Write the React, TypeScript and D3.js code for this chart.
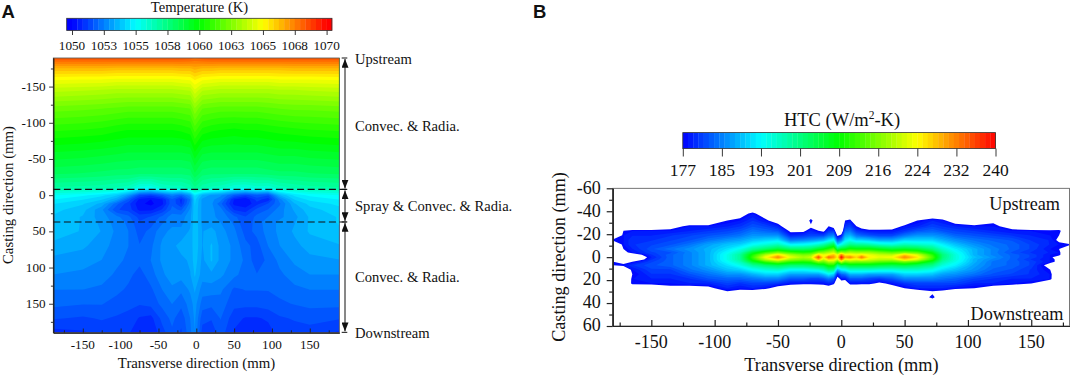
import React, { useEffect, useRef } from "react";
import * as d3 from "d3";

const tempBarTicks = [1050, 1052.5, 1055, 1057.5, 1060, 1062.5, 1065, 1067.5, 1070];
const tempBarLabels = ["1050", "1053", "1055", "1058", "1060", "1063", "1065", "1068", "1070"];
const htcBarTicks = [177, 184.875, 192.75, 200.625, 208.5, 216.375, 224.25, 232.125, 240];
const htcBarLabels = ["177", "185", "193", "201", "209", "216", "224", "232", "240"];

// panel A, grid (K)
const tempX = [-189, -150, -125, -105, -90, -75, -60, -45, -32, -20, -8, -2, 8, 20, 32, 50, 65, 80, 95, 110, 130, 150, 189];
const tempY = [-189, -175, -160, -145, -120, -90, -60, -30, -10, 0, 6, 12, 20, 30, 37, 50, 70, 90, 110, 130, 150, 170, 189];
const tempRows = [
  [1068.4, 1068.4, 1068.4, 1068.4, 1068.4, 1068.4, 1068.4, 1068.4, 1068.4, 1068.4, 1068.3, 1068.1, 1068.3, 1068.4, 1068.4, 1068.4, 1068.4, 1068.4, 1068.4, 1068.4, 1068.4, 1068.4, 1068.4],
  [1066.4, 1066.4, 1066.4, 1066.3, 1066.3, 1066.3, 1066.3, 1066.3, 1066.3, 1066.4, 1066.4, 1066.6, 1066.4, 1066.4, 1066.3, 1066.3, 1066.3, 1066.3, 1066.3, 1066.3, 1066.4, 1066.4, 1066.4],
  [1064.9, 1064.8, 1064.8, 1064.7, 1064.7, 1064.7, 1064.7, 1064.7, 1064.7, 1064.8, 1064.9, 1065.3, 1064.9, 1064.8, 1064.7, 1064.7, 1064.7, 1064.7, 1064.7, 1064.8, 1064.8, 1064.8, 1064.9],
  [1063.7, 1063.6, 1063.5, 1063.4, 1063.4, 1063.4, 1063.4, 1063.4, 1063.4, 1063.5, 1063.6, 1064.3, 1063.6, 1063.5, 1063.4, 1063.4, 1063.4, 1063.4, 1063.4, 1063.5, 1063.5, 1063.6, 1063.7],
  [1062.1, 1062, 1061.9, 1061.8, 1061.7, 1061.7, 1061.7, 1061.7, 1061.7, 1061.8, 1061.9, 1062.7, 1061.9, 1061.8, 1061.7, 1061.7, 1061.7, 1061.7, 1061.8, 1061.9, 1062, 1062, 1062.1],
  [1060.7, 1060.6, 1060.5, 1060.3, 1060.2, 1060.2, 1060.2, 1060.2, 1060.2, 1060.3, 1060.5, 1061.2, 1060.5, 1060.3, 1060.2, 1060.1, 1060.2, 1060.2, 1060.3, 1060.4, 1060.5, 1060.6, 1060.7],
  [1059.4, 1059.3, 1059.2, 1059.1, 1059, 1059, 1059, 1059, 1059, 1059, 1059.1, 1059.8, 1059.1, 1059, 1059, 1059, 1059, 1059, 1059.1, 1059.2, 1059.2, 1059.3, 1059.4],
  [1058.2, 1058.1, 1058, 1057.9, 1057.9, 1057.8, 1057.8, 1057.8, 1057.8, 1057.8, 1057.9, 1058.5, 1057.9, 1057.8, 1057.8, 1057.8, 1057.8, 1057.8, 1057.9, 1058, 1058, 1058.1, 1058.2],
  [1056.8, 1056.7, 1056.6, 1056.4, 1056.2, 1055.4, 1055.3, 1056, 1056.2, 1056.2, 1056.6, 1057.2, 1056.6, 1056.3, 1056.2, 1055.6, 1055.5, 1055.8, 1055.7, 1056.2, 1056.5, 1056.7, 1056.8],
  [1055.2, 1054.9, 1054.5, 1054, 1053, 1051.5, 1051.2, 1051.8, 1052.5, 1052, 1053, 1054.5, 1053.5, 1053, 1052.8, 1051.8, 1051.3, 1051.8, 1051.5, 1053.5, 1054.5, 1054.9, 1055.2],
  [1054.8, 1054.4, 1054, 1053.2, 1051.8, 1050.5, 1050.2, 1050.6, 1051.8, 1050.9, 1052.3, 1054.1, 1053, 1052.8, 1052.5, 1050.6, 1050.3, 1051.2, 1050.8, 1052.5, 1054, 1054.5, 1054.8],
  [1054.4, 1054, 1053.4, 1052, 1051.2, 1050.3, 1050.1, 1050.5, 1051.8, 1051, 1052.5, 1054, 1053, 1052.8, 1052, 1050.5, 1050.3, 1050.9, 1051.5, 1052.2, 1053.5, 1054.1, 1054.5],
  [1054.1, 1053.7, 1052.8, 1051.5, 1051.3, 1050.5, 1050.5, 1051.1, 1052, 1051.8, 1052.8, 1053.9, 1053, 1052.8, 1052.5, 1051, 1050.8, 1051.6, 1051.9, 1052.5, 1053.2, 1053.8, 1054.2],
  [1053.9, 1053.5, 1052.9, 1052.4, 1052, 1051.3, 1051.5, 1052, 1052.5, 1052.5, 1053, 1053.9, 1053, 1052.8, 1052.6, 1052, 1051.5, 1052, 1052.3, 1052.6, 1053, 1053.6, 1054],
  [1053.9, 1053.5, 1053, 1052.5, 1052.2, 1051.5, 1051.7, 1052.2, 1052.6, 1052.6, 1053, 1053.9, 1053, 1052.9, 1052.7, 1052.2, 1051.5, 1052.1, 1052.5, 1052.8, 1053.1, 1053.6, 1054],
  [1053.8, 1053.5, 1053.1, 1052.6, 1052.3, 1051.7, 1052, 1052.6, 1052.8, 1052.8, 1053.2, 1053.9, 1053.1, 1053.3, 1052.9, 1052.4, 1051.7, 1052, 1052.5, 1052.8, 1053.2, 1053.6, 1053.9],
  [1053.4, 1053.2, 1052.9, 1052.5, 1052.3, 1051.9, 1052.2, 1052.8, 1053, 1053.3, 1053.2, 1053.9, 1053.1, 1053.6, 1053, 1052.6, 1052, 1051.7, 1052.3, 1052.7, 1053, 1053.3, 1053.5],
  [1053, 1052.9, 1052.7, 1052.4, 1052.2, 1052, 1052.3, 1052.8, 1053, 1053, 1053.2, 1053.8, 1053, 1053.6, 1053, 1052.6, 1052.2, 1051.6, 1052, 1052.4, 1052.8, 1053, 1053.1],
  [1052.7, 1052.6, 1052.5, 1052.2, 1052, 1051.7, 1052.1, 1052.6, 1053, 1052.9, 1053.1, 1053.6, 1052.9, 1053, 1052.8, 1052.4, 1052.1, 1051.9, 1052, 1052.2, 1052.5, 1052.7, 1052.7],
  [1052.3, 1052.3, 1052.2, 1052, 1051.8, 1051.6, 1051.8, 1052.3, 1052.6, 1052.4, 1052.8, 1053.2, 1052.5, 1052.5, 1052.4, 1051.8, 1051.9, 1051.9, 1051.9, 1052, 1052.2, 1052.3, 1052.3],
  [1052, 1051.9, 1051.9, 1051.7, 1051.6, 1051.5, 1051.6, 1052, 1052.3, 1052, 1052.5, 1052.9, 1052.1, 1052, 1052.1, 1051.6, 1051.6, 1051.6, 1051.7, 1051.8, 1051.9, 1052, 1052],
  [1051.5, 1051.4, 1051.5, 1051.4, 1051.3, 1051, 1050.9, 1051.6, 1052, 1051.6, 1052.3, 1052.8, 1051.6, 1051.5, 1051.9, 1051.2, 1051, 1051, 1051.1, 1051.4, 1051.5, 1051.6, 1051.5],
  [1050.9, 1051, 1051.2, 1051.2, 1051.1, 1050.8, 1050.7, 1051.3, 1051.8, 1051.4, 1052.2, 1052.7, 1051.3, 1051.2, 1051.7, 1051, 1050.7, 1050.8, 1050.9, 1051.2, 1051.3, 1051.3, 1051],
];

// panel B, one list per transverse position, running down htcY (W/m2-K, below 177 is blank)
const htcX = [-180, -172, -165, -150, -135, -120, -105, -90, -80, -70, -60, -50, -40, -30, -24, -18, -14, -10, -6, -3, 0, 3, 7, 12, 16, 22, 30, 40, 50, 60, 72, 80, 90, 105, 120, 135, 150, 165, 172, 180];
const htcY = [-45, -38, -32, -27, -23, -19, -15, -11, -7, -4, -2, 0, 2, 4, 7, 11, 15, 19, 23, 27, 31, 35, 40];
const htcColumns = [
  [170, 170, 170, 170, 170, 170, 178, 172, 170, 170, 170, 170, 170, 177, 177, 170, 170, 170, 170, 170, 170, 170, 170],
  [170, 170, 170, 170, 177, 178, 178, 178, 177, 176, 172, 170, 170, 175, 178, 172, 170, 170, 171, 170, 170, 170, 170],
  [170, 170, 170, 171, 178, 179, 180, 180, 179, 178, 174, 170, 172, 177, 180, 178, 177, 178, 178, 172, 170, 170, 170],
  [170, 170, 170, 172, 178, 179, 180, 181, 182, 181, 180, 179, 180, 181, 182, 181, 180, 179, 178, 173, 170, 170, 170],
  [170, 170, 170, 175, 178, 180, 181, 182, 184, 182, 183, 183, 183, 183, 183, 181, 180, 179, 178, 176, 171, 170, 170],
  [170, 170, 171, 178, 179, 181, 182, 184, 186, 185, 185, 185, 185, 185, 185, 184, 182, 180, 179, 175, 170, 170, 170],
  [170, 170, 172, 178, 180, 182, 184, 187, 188, 188, 188, 188, 188, 188, 188, 186, 184, 182, 179, 176, 171, 170, 170],
  [170, 170, 177, 179, 181, 183, 186, 189, 191, 193, 194, 194, 194, 193, 191, 189, 186, 183, 181, 179, 176, 170, 170],
  [170, 175, 178, 180, 182, 184, 187, 190, 194, 197, 199, 199, 199, 197, 194, 190, 186, 183, 180, 178, 175, 170, 170],
  [170, 178, 180, 182, 184, 186, 189, 193, 199, 206, 210, 212, 210, 206, 199, 193, 188, 184, 181, 179, 174, 170, 170],
  [170, 174, 178, 181, 183, 186, 190, 195, 202, 212, 219, 224, 220, 212, 202, 195, 190, 185, 181, 178, 172, 170, 170],
  [170, 170, 174, 179, 182, 186, 191, 197, 205, 216, 226, 232, 226, 216, 204, 196, 190, 185, 180, 175, 170, 170, 170],
  [170, 170, 170, 172, 176, 179, 184, 192, 202, 212, 219, 223, 218, 211, 202, 193, 187, 182, 178, 174, 170, 170, 170],
  [170, 170, 170, 172, 176, 180, 185, 193, 202, 210, 216, 219, 216, 210, 202, 193, 187, 182, 178, 172, 170, 170, 170],
  [170, 170, 179, 176, 179, 181, 186, 194, 203, 211, 217, 221, 217, 211, 203, 194, 187, 181, 178, 172, 170, 170, 170],
  [170, 170, 170, 172, 177, 181, 187, 196, 206, 216, 227, 236, 229, 217, 205, 195, 187, 181, 178, 173, 170, 170, 170],
  [170, 170, 170, 171, 176, 181, 188, 198, 208, 217, 223, 225, 221, 215, 206, 197, 189, 182, 178, 174, 170, 170, 170],
  [170, 170, 170, 177, 180, 184, 191, 201, 211, 219, 225, 234, 227, 219, 210, 201, 192, 184, 179, 175, 170, 170, 170],
  [170, 170, 170, 175, 180, 185, 193, 204, 214, 221, 228, 231, 226, 219, 210, 200, 190, 182, 178, 172, 170, 170, 170],
  [170, 170, 170, 170, 172, 176, 182, 190, 203, 215, 223, 225, 221, 212, 200, 188, 179, 175, 172, 170, 170, 170, 170],
  [170, 170, 170, 170, 172, 178, 184, 194, 206, 219, 232, 240, 233, 221, 204, 192, 183, 178, 175, 171, 170, 170, 170],
  [170, 170, 177, 180, 183, 187, 191, 197, 207, 217, 225, 230, 223, 215, 204, 193, 184, 178, 174, 172, 170, 170, 170],
  [170, 170, 178, 181, 184, 188, 193, 200, 210, 219, 225, 232, 225, 217, 206, 196, 188, 182, 178, 173, 170, 170, 170],
  [170, 170, 171, 177, 180, 184, 190, 199, 209, 218, 224, 227, 223, 216, 206, 196, 188, 182, 178, 173, 170, 170, 170],
  [170, 170, 170, 175, 179, 183, 190, 199, 209, 218, 226, 233, 226, 216, 206, 196, 188, 182, 178, 172, 170, 170, 170],
  [170, 170, 170, 173, 178, 182, 189, 198, 209, 218, 223, 225, 222, 216, 206, 196, 187, 181, 178, 171, 170, 170, 170],
  [170, 170, 170, 173, 178, 181, 187, 196, 207, 216, 221, 223, 220, 214, 205, 195, 187, 180, 176, 171, 170, 170, 170],
  [170, 170, 170, 174, 178, 181, 187, 195, 205, 214, 220, 224, 220, 213, 204, 195, 187, 182, 178, 175, 171, 170, 170],
  [170, 170, 172, 178, 180, 184, 190, 197, 206, 216, 227, 232, 227, 216, 205, 196, 190, 185, 180, 177, 171, 170, 170],
  [170, 170, 177, 179, 182, 186, 190, 196, 205, 214, 222, 226, 222, 213, 203, 196, 190, 185, 181, 179, 173, 170, 170],
  [170, 172, 179, 181, 183, 186, 190, 195, 201, 207, 211, 213, 211, 206, 200, 194, 189, 185, 181, 179, 176, 179, 170],
  [170, 171, 178, 180, 182, 185, 188, 192, 196, 199, 201, 201, 200, 198, 195, 191, 187, 184, 181, 179, 175, 170, 170],
  [170, 170, 174, 179, 181, 183, 186, 189, 192, 194, 195, 195, 195, 194, 192, 189, 186, 183, 181, 178, 173, 170, 170],
  [170, 170, 171, 178, 180, 182, 184, 186, 188, 188, 188, 189, 188, 188, 187, 186, 184, 181, 179, 177, 171, 170, 170],
  [170, 170, 176, 178, 179, 181, 183, 184, 185, 185, 185, 186, 185, 184, 184, 183, 182, 180, 179, 175, 170, 170, 170],
  [170, 170, 170, 175, 178, 180, 182, 183, 183, 182, 183, 183, 183, 183, 183, 182, 181, 179, 178, 174, 170, 170, 170],
  [170, 170, 170, 172, 178, 179, 180, 181, 181, 180, 181, 181, 180, 181, 181, 180, 180, 179, 177, 171, 170, 170, 170],
  [170, 170, 170, 170, 178, 178, 179, 179, 178, 179, 178, 178, 178, 178, 175, 177, 178, 178, 172, 170, 170, 170, 170],
  [170, 170, 170, 171, 178, 177, 176, 178, 177, 178, 178, 174, 176, 176, 171, 170, 172, 171, 170, 170, 170, 170, 170],
  [170, 170, 170, 170, 172, 170, 170, 178, 172, 170, 170, 170, 170, 170, 170, 170, 170, 170, 170, 170, 170, 170, 170],
];

const sideLabels = ["Upstream", "Convec. & Radia.", "Spray & Convec. & Radia.", "Convec. & Radia.", "Downstream"];
const sideBaselines = [64.3, 131, 211, 281.7, 338.3];
const zoneEdges = [-189.5, -8, 37, 189.5];

const rainbow = ["#0000ff", "#00ffff", "#00ff00", "#ffff00", "#ff0000"];
const FONT = "'Liberation Serif', 'Times New Roman', serif";

function colorScale(lo: number, hi: number) {
  const step = (hi - lo) / 4;
  return d3.scaleLinear<string>().domain(d3.range(5).map((i) => lo + i * step)).range(rainbow).clamp(true);
}

// filled contour bands; the grid is not even so positions go through piecewise scales
function drawContours(g: any, values: number[], gridX: number[], gridY: number[], x: any, y: any, levels: number[], color: any) {
  const sx = d3.scaleLinear().domain(gridX.map((_, i) => i + 0.5)).range(gridX.map((d) => x(d))).clamp(true);
  const sy = d3.scaleLinear().domain(gridY.map((_, i) => i + 0.5)).range(gridY.map((d) => y(d))).clamp(true);
  const path = d3.geoPath(
    d3.geoTransform({
      point(px: number, py: number) {
        this.stream.point(sx(px), sy(py));
      },
    })
  );
  const contours = d3.contours().size([gridX.length, gridY.length]).thresholds(levels).smooth(true);
  g.selectAll("path.band")
    .data(contours(values))
    .enter()
    .append("path")
    .attr("class", "band")
    .attr("d", (d: any) => path(d))
    .attr("fill", (d: any) => color(d.value));
}

function drawColorBar(svg: any, opts: any) {
  const { tickVals, labels, lo, hi, pad, y0, y1, tickEnd, labelY, fontSize, count, color } = opts;
  const bar = d3.scaleLinear().domain([lo, hi]).range(opts.range);
  const ext = (hi - lo + 2 * pad) / count;
  const edges = d3.range(count).map((i) => lo - pad + i * ext);
  svg.append("g")
    .selectAll("rect")
    .data(edges)
    .enter()
    .append("rect")
    .attr("x", (d: number) => bar(d))
    .attr("y", y0)
    .attr("width", bar(lo + ext) - bar(lo) + 0.3)
    .attr("height", y1 - y0)
    .attr("fill", (d: number) => color(d + ext / 2));
  svg.append("rect")
    .attr("x", bar(lo - pad))
    .attr("y", y0)
    .attr("width", bar(hi + pad) - bar(lo - pad))
    .attr("height", y1 - y0)
    .attr("fill", "none")
    .attr("stroke", "#333")
    .attr("stroke-width", 0.8);
  const ax = svg.append("g").attr("transform", `translate(0,${y1})`);
  ax.call(d3.axisBottom(bar).tickValues(tickVals).tickSize(tickEnd - y1).tickPadding(0).tickFormat(() => ""));
  ax.select(".domain").remove();
  ax.selectAll("line").attr("stroke", "#222").attr("stroke-width", 0.9);
  svg.append("g")
    .selectAll("text")
    .data(tickVals)
    .enter()
    .append("text")
    .attr("x", (d: number) => bar(d))
    .attr("y", labelY)
    .attr("text-anchor", "middle")
    .attr("font-size", fontSize)
    .text((_: number, i: number) => labels[i]);
}

function drawAxes(svg: any, opts: any) {
  const { x, y, xMajor, xMinor, yMajor, yMinor, major, minor, labelGap, fontSize, strokeW, xLabelY } = opts;
  const [x0, x1] = x.range();
  const [y0, y1] = y.range();

  svg.append("rect")
    .attr("x", x0)
    .attr("y", y0)
    .attr("width", x1 - x0)
    .attr("height", y1 - y0)
    .attr("fill", "none")
    .attr("stroke", "#555")
    .attr("stroke-width", 0.8);

  const fmt = (d: any) => String(d);
  // bottom ticks point into the plot
  const bottomMinor = svg.append("g").attr("transform", `translate(0,${y1})`);
  bottomMinor.call(d3.axisBottom(x).tickValues(xMinor).tickSizeInner(-minor).tickSizeOuter(0).tickFormat(() => ""));
  const bottom = svg.append("g").attr("transform", `translate(0,${y1})`);
  bottom.call(d3.axisBottom(x).tickValues(xMajor).tickSizeInner(-major).tickSizeOuter(0).tickFormat(() => ""));
  const leftMinor = svg.append("g").attr("transform", `translate(${x0},0)`);
  leftMinor.call(d3.axisLeft(y).tickValues(yMinor).tickSizeInner(minor).tickSizeOuter(0).tickFormat(() => ""));
  const left = svg.append("g").attr("transform", `translate(${x0},0)`);
  left.call(d3.axisLeft(y).tickValues(yMajor).tickSizeInner(major).tickSizeOuter(0).tickPadding(labelGap).tickFormat(fmt));

  [bottomMinor, bottom, leftMinor, left].forEach((g: any) => {
    g.selectAll("line,path").attr("stroke", "#222").attr("stroke-width", strokeW);
    g.selectAll("text").attr("font-family", FONT).attr("font-size", fontSize).attr("fill", "#111").attr("dy", "0.27em");
  });

  svg.append("g")
    .selectAll("text")
    .data(xMajor)
    .enter()
    .append("text")
    .attr("x", (d: number) => x(d))
    .attr("y", xLabelY)
    .attr("text-anchor", "middle")
    .attr("font-size", fontSize)
    .text(fmt);
}

function App() {
  const ref = useRef<SVGSVGElement | null>(null);

  useEffect(() => {
    const svg = d3.select(ref.current);
    svg.selectAll("*").remove();
    svg.attr("font-family", FONT).attr("fill", "#111");

    const defs = svg.append("defs");
    defs.append("clipPath").attr("id", "clipA").append("rect").attr("x", 53.3).attr("y", 58).attr("width", 286).attr("height", 274.7);
    defs.append("clipPath").attr("id", "clipB").append("rect").attr("x", 612.7).attr("y", 188.3).attr("width", 457).attr("height", 138);
    defs.append("marker")
      .attr("id", "head")
      .attr("viewBox", "0 0 10 8")
      .attr("refX", 10)
      .attr("refY", 4)
      .attr("markerUnits", "userSpaceOnUse")
      .attr("markerWidth", 9)
      .attr("markerHeight", 7)
      .attr("orient", "auto-start-reverse")
      .append("path")
      .attr("d", "M0,0L10,4L0,8Z")
      .attr("fill", "#111");

    // panel A
    const xA = d3.scaleLinear().domain([-189, 189]).range([53.3, 339.3]);
    const yA = d3.scaleLinear().domain([-189.5, 190]).range([58, 332.7]);
    const tempColor = colorScale(1050, 1070);
    const tempStep = 20 / 48;
    const tempLevels = d3.range(50).map((i) => 1050 + (i - 0.5) * tempStep);
    const tempFlat = tempRows.flat();

    const gA = svg.append("g").attr("clip-path", "url(#clipA)");
    gA.append("rect").attr("x", 53.3).attr("y", 58).attr("width", 286).attr("height", 274.7).attr("fill", tempColor(1050));
    drawContours(gA, tempFlat, tempX, tempY, xA, yA, tempLevels, (v: number) => tempColor(v + tempStep / 2));

    drawAxes(svg, {
      x: xA,
      y: yA,
      xMajor: [-150, -100, -50, 0, 50, 100, 150],
      xMinor: [-175, -125, -75, -25, 25, 75, 125, 175],
      yMajor: [-150, -100, -50, 0, 50, 100, 150],
      yMinor: [-175, -125, -75, -25, 25, 75, 125, 175],
      major: 4.2,
      minor: 2.4,
      labelGap: 3.5,
      fontSize: 13.2,
      strokeW: 0.9,
      xLabelY: 348.5,
    });

    drawColorBar(svg, {
      tickVals: tempBarTicks,
      labels: tempBarLabels,
      lo: 1050,
      hi: 1070,
      pad: 0.4167,
      range: [72, 326.6],
      y0: 18.3,
      y1: 30.5,
      tickEnd: 35,
      labelY: 49.5,
      fontSize: 13.2,
      count: 50,
      color: tempColor,
    });

    svg.append("text").attr("x", 199.5).attr("y", 12).attr("text-anchor", "middle").attr("font-size", 14.6).text("Temperature (K)");
    svg.append("text").attr("x", 196.5).attr("y", 368).attr("text-anchor", "middle").attr("font-size", 14.8).text("Transverse direction (mm)");
    svg.append("text").attr("transform", "translate(13,195) rotate(-90)").attr("text-anchor", "middle").attr("font-size", 14.8).text("Casting direction (mm)");

    // zone borders and span arrows
    [-8, 37].forEach((v) => {
      svg.append("line")
        .attr("x1", 53.3)
        .attr("x2", 347)
        .attr("y1", yA(v))
        .attr("y2", yA(v))
        .attr("stroke", "#111")
        .attr("stroke-width", 1.1)
        .attr("stroke-dasharray", "7,3.6");
    });
    zoneEdges.forEach((v) => {
      svg.append("line").attr("x1", 341.7).attr("x2", 347.3).attr("y1", yA(v)).attr("y2", yA(v)).attr("stroke", "#111").attr("stroke-width", 1);
    });
    d3.pairs(zoneEdges).forEach(([a, b]) => {
      svg.append("line")
        .attr("x1", 345)
        .attr("x2", 345)
        .attr("y1", yA(a) + 1)
        .attr("y2", yA(b) - 1)
        .attr("stroke", "#111")
        .attr("stroke-width", 1)
        .attr("marker-start", "url(#head)")
        .attr("marker-end", "url(#head)");
    });
    svg.append("g")
      .selectAll("text")
      .data(sideLabels)
      .enter()
      .append("text")
      .attr("x", 355)
      .attr("y", (_, i) => sideBaselines[i])
      .attr("font-size", 14.6)
      .text((d) => d);

    // panel B
    const xB = d3.scaleLinear().domain([-180.5, 180.2]).range([612.7, 1069.5]);
    const yB = d3.scaleLinear().domain([-60, 60]).range([188.3, 326]);
    const htcColor = colorScale(177, 240);
    const htcStep = 63 / 60;
    const htcLevels = d3.range(61).map((i) => 177 + i * htcStep);
    const htcFlat = htcY.flatMap((_, j) => htcColumns.map((col) => col[j]));

    const gB = svg.append("g").attr("clip-path", "url(#clipB)");
    drawContours(gB, htcFlat, htcX, htcY, xB, yB, htcLevels, (v: number) => htcColor(v + htcStep / 2));

    drawAxes(svg, {
      x: xB,
      y: yB,
      xMajor: [-150, -100, -50, 0, 50, 100, 150],
      xMinor: [-175, -125, -75, -25, 25, 75, 125, 175],
      yMajor: [-60, -40, -20, 0, 20, 40, 60],
      yMinor: [-50, -30, -10, 10, 30, 50],
      major: 6,
      minor: 3.5,
      labelGap: 6,
      fontSize: 18,
      strokeW: 1.2,
      xLabelY: 348.3,
    });

    drawColorBar(svg, {
      tickVals: htcBarTicks,
      labels: htcBarLabels,
      lo: 177,
      hi: 240,
      pad: 0,
      range: [682.8, 995.5],
      y0: 132.6,
      y1: 148.6,
      tickEnd: 156.5,
      labelY: 175.5,
      fontSize: 17.5,
      count: 60,
      color: htcColor,
    });

    const htcTitle = svg.append("text").attr("x", 842).attr("y", 126).attr("text-anchor", "middle").attr("font-size", 18.5);
    htcTitle.append("tspan").text("HTC (W/m");
    htcTitle.append("tspan").attr("font-size", 11.5).attr("dy", -7).text("2");
    htcTitle.append("tspan").attr("dy", 7).text("-K)");

    svg.append("text").attr("x", 841.5).attr("y", 371).attr("text-anchor", "middle").attr("font-size", 18.3).text("Transverse direction (mm)");
    svg.append("text").attr("transform", "translate(565,257) rotate(-90)").attr("text-anchor", "middle").attr("font-size", 18.2).text("Casting direction (mm)");
    svg.append("text").attr("x", 1060).attr("y", 210).attr("text-anchor", "end").attr("font-size", 18.2).text("Upstream");
    svg.append("text").attr("x", 1063.5).attr("y", 319.6).attr("text-anchor", "end").attr("font-size", 18.2).text("Downstream");

    // panel letters
    const bold = "'Liberation Sans', Arial, sans-serif";
    svg.append("text").attr("x", 1.5).attr("y", 17.5).attr("font-family", bold).attr("font-weight", 700).attr("font-size", 18.5).text("A");
    svg.append("text").attr("x", 533).attr("y", 17.5).attr("font-family", bold).attr("font-weight", 700).attr("font-size", 18.5).text("B");
  }, []);

  return <svg ref={ref} width={1072} height={376} style={{ position: "absolute", left: 0, top: 0, background: "#fff" }} />;
}

export default App;
